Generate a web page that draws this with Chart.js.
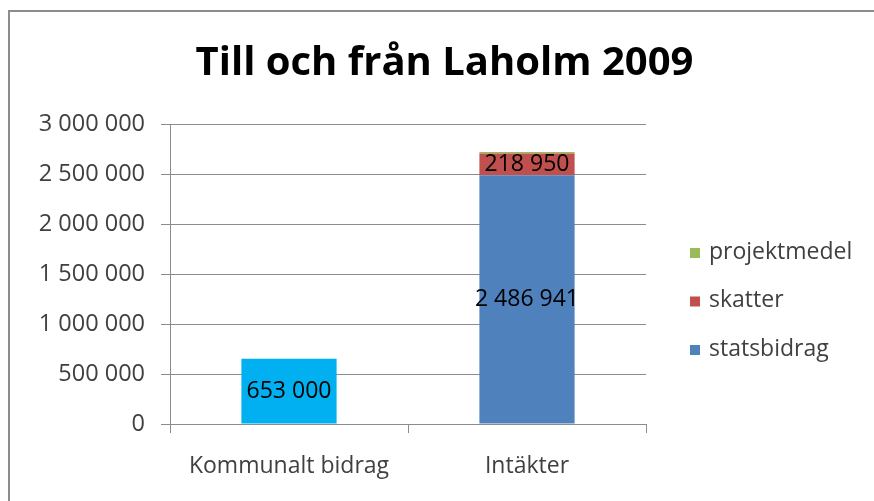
<!DOCTYPE html>
<html>
<head>
<meta charset="utf-8">
<script src="https://cdn.jsdelivr.net/npm/chart.js@4/dist/chart.umd.min.js"></script>
<style>
	html, body { margin: 0; padding: 0; background: #fff; overflow: hidden; }
	#frame { position: absolute; left: 8px; top: 10px; width: 900px; height: 600px; border-top: 2px solid #8c8c8c; border-left: 2px solid #8c8c8c; }
	#chart-laholm { position: absolute; left: 0; top: 0; }
</style>
</head>
<body>
<div id="frame"></div>
<canvas id="chart-laholm" width="874" height="501"></canvas>
<script>
// Chart data
const TITLE = "Till och från Laholm 2009";
const CATEGORIES = ["Kommunalt bidrag", "Intäkter"];
const STATSBIDRAG = [653000, 2486941];
const SKATTER = [null, 218950];
const PROJEKTMEDEL = [null, 15000];
const Y_MAX = 3000000;
const Y_STEP = 500000;

const COLORS = {
	kommunalt: "#00B0F0",
	statsbidrag: "#4F81BD",
	skatter: "#C0504D",
	projektmedel: "#9BBB59",
	grid: "#8c8c8c",
	text: "#404040",
};
const FONT = "'Open Sans', sans-serif";

// 3 000 000 style
const fmt = (v) => String(Math.round(v)).replace(/\B(?=(\d{3})+(?!\d))/g, " ");

//---------------------------------------------------------
// Plugins
//---------------------------------------------------------
// Value labels in the middle of the bar segments
const barLabels = {
	id: "barLabels",
	afterDatasetsDraw(chart) {
		const { ctx } = chart;
		ctx.save();
		ctx.font = "23px " + FONT;
		ctx.fillStyle = "#000";
		ctx.textAlign = "center";
		ctx.textBaseline = "middle";
		chart.data.datasets.forEach((ds, i) => {
			if (!ds.showValue) return;
			chart.getDatasetMeta(i).data.forEach((bar, j) => {
				const v = ds.data[j];
				if (v == null) return;
				ctx.fillText(fmt(v), bar.x, (bar.y + bar.base) / 2);
			});
		});
		ctx.restore();
	},
};

// Legend as a layout box on the right side
const sideLegend = {
	id: "sideLegend",
	beforeInit(chart) {
		const box = {
			position: "right",
			weight: 0,
			fullSize: false,
			options: { stackWeight: 1 },
			left: 0, top: 0, right: 0, bottom: 0, width: 0, height: 0,
			isHorizontal() { return false; },
			update(maxWidth, maxHeight) {
				this.width = 228;
				this.height = maxHeight;
			},
			draw() {
				const { ctx } = chart;
				const items = chart.data.datasets.slice().reverse();
				ctx.save();
				ctx.font = "23px " + FONT;
				ctx.textBaseline = "middle";
				ctx.textAlign = "left";
				items.forEach((ds, k) => {
					const y = chart.chartArea.top + 129 + k * 48.5;
					ctx.fillStyle = ds.legendColor;
					ctx.fillRect(this.left + 44, y - 5, 10, 10);
					ctx.fillStyle = COLORS.text;
					ctx.fillText(ds.label, this.left + 63, y - 1);
				});
				ctx.restore();
			},
		};
		Chart.layouts.addBox(chart, box);
	},
};

//---------------------------------------------------------
// Chart
//---------------------------------------------------------
const CHART_DATA = {
	labels: CATEGORIES,
	datasets: [
		{
			label: "statsbidrag",
			data: STATSBIDRAG,
			backgroundColor: [COLORS.kommunalt, COLORS.statsbidrag],
			legendColor: COLORS.statsbidrag,
			showValue: true,
		},
		{
			label: "skatter",
			data: SKATTER,
			backgroundColor: COLORS.skatter,
			legendColor: COLORS.skatter,
			showValue: true,
		},
		{
			label: "projektmedel",
			data: PROJEKTMEDEL,
			backgroundColor: COLORS.projektmedel,
			legendColor: COLORS.projektmedel,
			showValue: false,
		},
	],
};

const CHART_CONFIG = {
	type: "bar",
	data: CHART_DATA,
	options: {
		responsive: false,
		animation: false,
		devicePixelRatio: 1,
		categoryPercentage: 0.4,
		barPercentage: 1,
		layout: {
			padding: { left: 15, right: 0, top: 0, bottom: 0 },
		},
		scales: {
			x: {
				stacked: true,
				border: { display: true, color: COLORS.grid, width: 1 },
				grid: {
					offset: true,
					drawOnChartArea: false,
					drawTicks: true,
					tickLength: 9,
					color: COLORS.grid,
				},
				ticks: {
					color: COLORS.text,
					font: { family: FONT, size: 23 },
					padding: 20,
					maxRotation: 0,
				},
				afterFit: (scale) => { scale.height = 77; },
			},
			y: {
				stacked: true,
				min: 0,
				max: Y_MAX,
				border: { display: true, color: COLORS.grid, width: 1 },
				grid: {
					color: COLORS.grid,
					tickLength: 9,
				},
				ticks: {
					stepSize: Y_STEP,
					color: COLORS.text,
					font: { family: FONT, size: 23.5 },
					padding: 16,
					callback: (v) => fmt(v),
				},
				afterFit: (scale) => { scale.width = 155; },
			},
		},
		plugins: {
			legend: { display: false },
			tooltip: { enabled: false },
			title: {
				display: true,
				text: TITLE,
				color: "#000",
				font: { family: FONT, size: 40, weight: "bold", lineHeight: 1.2 },
				padding: { top: 40, bottom: 36 },
			},
		},
	},
	plugins: [barLabels, sideLegend],
};

new Chart(document.getElementById("chart-laholm"), CHART_CONFIG);
</script>
</body>
</html>
